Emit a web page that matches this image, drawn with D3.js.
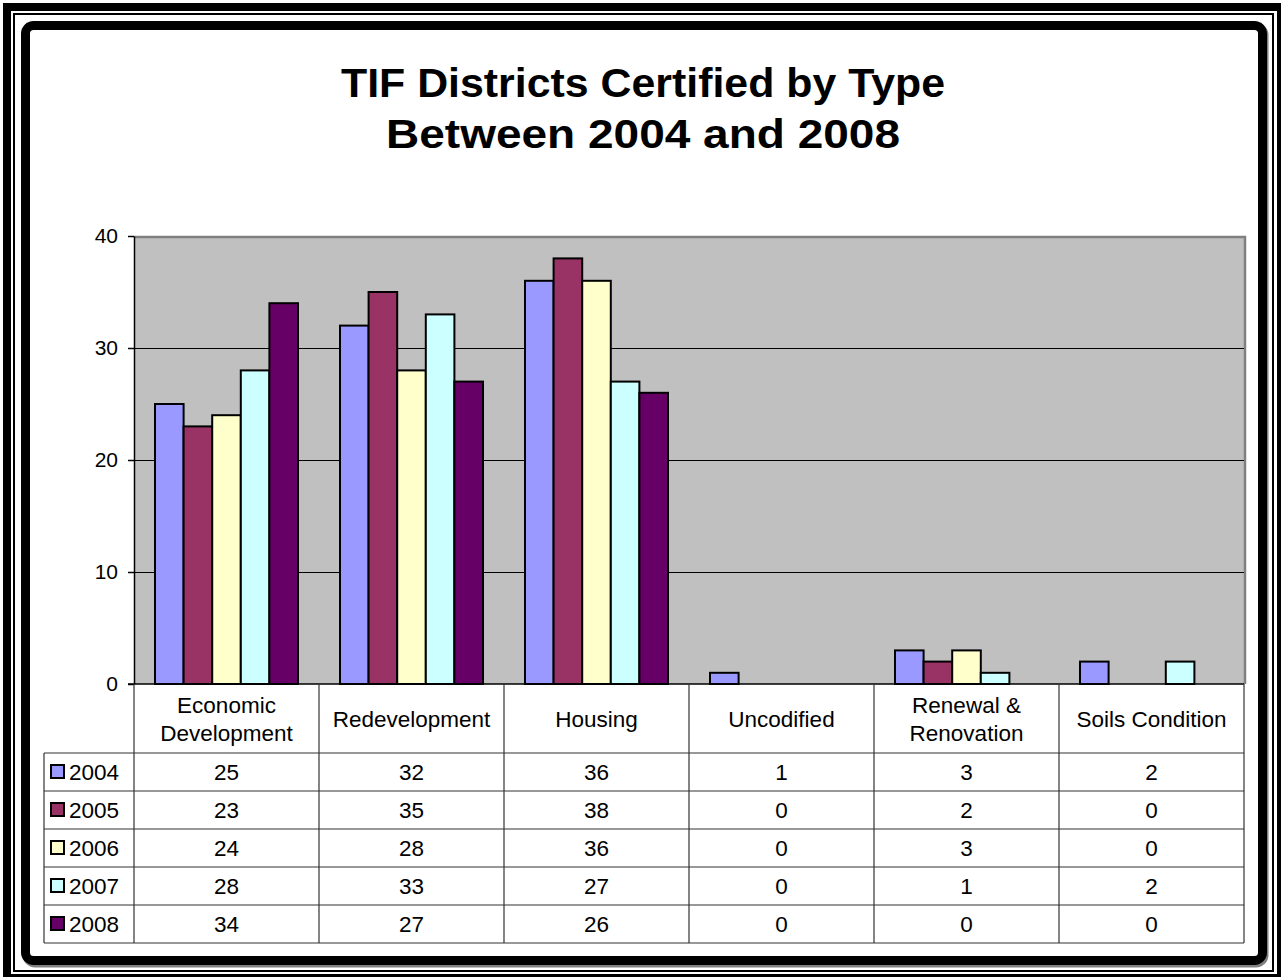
<!DOCTYPE html>
<html>
<head>
<meta charset="utf-8">
<script src="https://cdn.jsdelivr.net/npm/d3@7"></script>
<style>
  html, body { margin: 0; padding: 0; background: #fff; }
  svg { display: block; font-family: "Liberation Sans", Arial, sans-serif; }
</style>
</head>
<body>
<div id="chart"></div>
<script>
const categories = ['Economic Development', 'Redevelopment', 'Housing', 'Uncodified', 'Renewal & Renovation', 'Soils Condition'];
const categoryLines = [['Economic', 'Development'], ['Redevelopment'], ['Housing'], ['Uncodified'], ['Renewal &', 'Renovation'], ['Soils Condition']];
const years = ['2004', '2005', '2006', '2007', '2008'];
const values2004 = [25, 32, 36, 1, 3, 2];
const values2005 = [23, 35, 38, 0, 2, 0];
const values2006 = [24, 28, 36, 0, 3, 0];
const values2007 = [28, 33, 27, 0, 1, 2];
const values2008 = [34, 27, 26, 0, 0, 0];
const yTicks = [0, 10, 20, 30, 40];
const yearColors = ['#9999FF', '#993366', '#FFFFCC', '#CCFFFF', '#660066'];

const series = [values2004, values2005, values2006, values2007, values2008];

const W = 1287;
const H = 977;
const PLOT = { left: 134, right: 1244, top: 236, bottom: 684 };
const ROW_H = 38;
const HEADER_BOTTOM = 753;
const LEGEND_LEFT = 44;
const TABLE_FONT = 22.5;

const svg = d3.select('#chart').append('svg').attr('width', W).attr('height', H);

// frame: thick/thin outer border plus the rounded chart border
svg.append('rect').attr('x', 3).attr('y', 3).attr('width', 1278).attr('height', 974).attr('fill', '#000');
svg.append('rect').attr('x', 11).attr('y', 11).attr('width', 1266).attr('height', 963).attr('fill', '#fff');
svg.append('rect').attr('x', 14).attr('y', 14).attr('width', 1259).attr('height', 957)
  .attr('fill', 'none').attr('stroke', '#000').attr('stroke-width', 2);
svg.append('rect').attr('x', 27).attr('y', 27).attr('width', 1237).attr('height', 936).attr('rx', 8)
  .attr('fill', 'none').attr('stroke', '#808080').attr('stroke-width', 9);
svg.append('rect').attr('x', 25.5).attr('y', 25.5).attr('width', 1237).attr('height', 935).attr('rx', 8)
  .attr('fill', '#fff').attr('stroke', '#000').attr('stroke-width', 9);

// title (stretched a little, like the original)
const title = svg.append('text').attr('text-anchor', 'middle').attr('font-size', 41).attr('font-weight', 'bold');
title.append('tspan').attr('x', 643).attr('y', 97)
  .attr('textLength', 604).attr('lengthAdjust', 'spacingAndGlyphs')
  .text('TIF Districts Certified by Type');
title.append('tspan').attr('x', 643).attr('y', 148)
  .attr('textLength', 514).attr('lengthAdjust', 'spacingAndGlyphs')
  .text('Between 2004 and 2008');

const x = d3.scaleBand().domain(categories).range([PLOT.left, PLOT.right]);
const xInner = d3.scaleBand().domain(years).range([21, x.bandwidth() - 21]);
const y = d3.scaleLinear().domain([0, 40]).range([PLOT.bottom, PLOT.top]);

// plot area
svg.append('rect').attr('x', PLOT.left).attr('y', PLOT.top)
  .attr('width', PLOT.right - PLOT.left).attr('height', PLOT.bottom - PLOT.top).attr('fill', '#C0C0C0');
svg.append('path')
  .attr('d', `M${PLOT.left},${PLOT.top + 1}H${PLOT.right + 1}V${PLOT.bottom}`)
  .attr('fill', 'none').attr('stroke', '#808080').attr('stroke-width', 2.5);

svg.append('g').selectAll('line').data(yTicks.filter((t) => t > 0 && t < 40)).join('line')
  .attr('x1', PLOT.left).attr('x2', PLOT.right)
  .attr('y1', (d) => Math.round(y(d)) + 0.5).attr('y2', (d) => Math.round(y(d)) + 0.5)
  .attr('stroke', '#000').attr('stroke-width', 1);

// bars
const barData = [];
categories.forEach((c, i) => {
  years.forEach((yr, j) => barData.push({ cat: c, year: yr, value: series[j][i], color: yearColors[j] }));
});
svg.append('g').selectAll('rect').data(barData.filter((d) => d.value > 0)).join('rect')
  .attr('x', (d) => x(d.cat) + xInner(d.year))
  .attr('y', (d) => y(d.value))
  .attr('width', xInner.bandwidth())
  .attr('height', (d) => y(0) - y(d.value))
  .attr('fill', (d) => d.color)
  .attr('stroke', '#000').attr('stroke-width', 2);

// y axis
const yAxis = svg.append('g').attr('transform', `translate(${PLOT.left},0)`)
  .call(d3.axisLeft(y).tickValues(yTicks).tickSize(6).tickPadding(10).tickSizeOuter(0));
yAxis.select('.domain').attr('stroke', '#000').attr('stroke-width', 1.5);
yAxis.selectAll('.tick line').attr('stroke', '#000').attr('stroke-width', 1.5);
yAxis.selectAll('.tick text').attr('font-size', 21).attr('fill', '#000')
  .attr('font-family', '"Liberation Sans", Arial, sans-serif');

// data table
const tableBottom = HEADER_BOTTOM + ROW_H * years.length;
const grid = svg.append('g').attr('stroke', '#333').attr('stroke-width', 1.2);
grid.append('line').attr('x1', PLOT.left - 6).attr('x2', PLOT.right).attr('y1', PLOT.bottom).attr('y2', PLOT.bottom)
  .attr('stroke', '#000').attr('stroke-width', 1.5);
grid.selectAll('.vline').data(categories.map((c) => x(c)).concat([PLOT.right])).join('line')
  .attr('class', 'vline')
  .attr('x1', (d) => d).attr('x2', (d) => d)
  .attr('y1', PLOT.bottom).attr('y2', tableBottom);
grid.append('line').attr('x1', LEGEND_LEFT).attr('x2', LEGEND_LEFT).attr('y1', HEADER_BOTTOM).attr('y2', tableBottom);
grid.selectAll('.hline').data(d3.range(years.length + 1)).join('line')
  .attr('class', 'hline')
  .attr('x1', LEGEND_LEFT).attr('x2', PLOT.right)
  .attr('y1', (i) => HEADER_BOTTOM + i * ROW_H).attr('y2', (i) => HEADER_BOTTOM + i * ROW_H);

// category header labels
const headerMid = (PLOT.bottom + HEADER_BOTTOM) / 2;
categories.forEach((c, i) => {
  const lines = categoryLines[i];
  const t = svg.append('text').attr('text-anchor', 'middle').attr('font-size', TABLE_FONT).attr('fill', '#000');
  lines.forEach((ln, k) => {
    t.append('tspan')
      .attr('x', x(c) + x.bandwidth() / 2)
      .attr('y', headerMid + (k - (lines.length - 1) / 2) * 28)
      .attr('dy', '0.36em')
      .text(ln);
  });
});

// rows: legend keys + values
years.forEach((yr, j) => {
  const cy = HEADER_BOTTOM + j * ROW_H + ROW_H / 2;
  svg.append('rect').attr('x', 51).attr('y', cy - 7).attr('width', 13).attr('height', 13)
    .attr('fill', yearColors[j]).attr('stroke', '#000').attr('stroke-width', 2);
  svg.append('text').attr('x', 69).attr('y', cy).attr('dy', '0.36em')
    .attr('font-size', TABLE_FONT).attr('fill', '#000').text(yr);
  categories.forEach((c, i) => {
    svg.append('text').attr('x', x(c) + x.bandwidth() / 2).attr('y', cy).attr('dy', '0.36em')
      .attr('text-anchor', 'middle').attr('font-size', TABLE_FONT).attr('fill', '#000')
      .text(series[j][i]);
  });
});
</script>
</body>
</html>
